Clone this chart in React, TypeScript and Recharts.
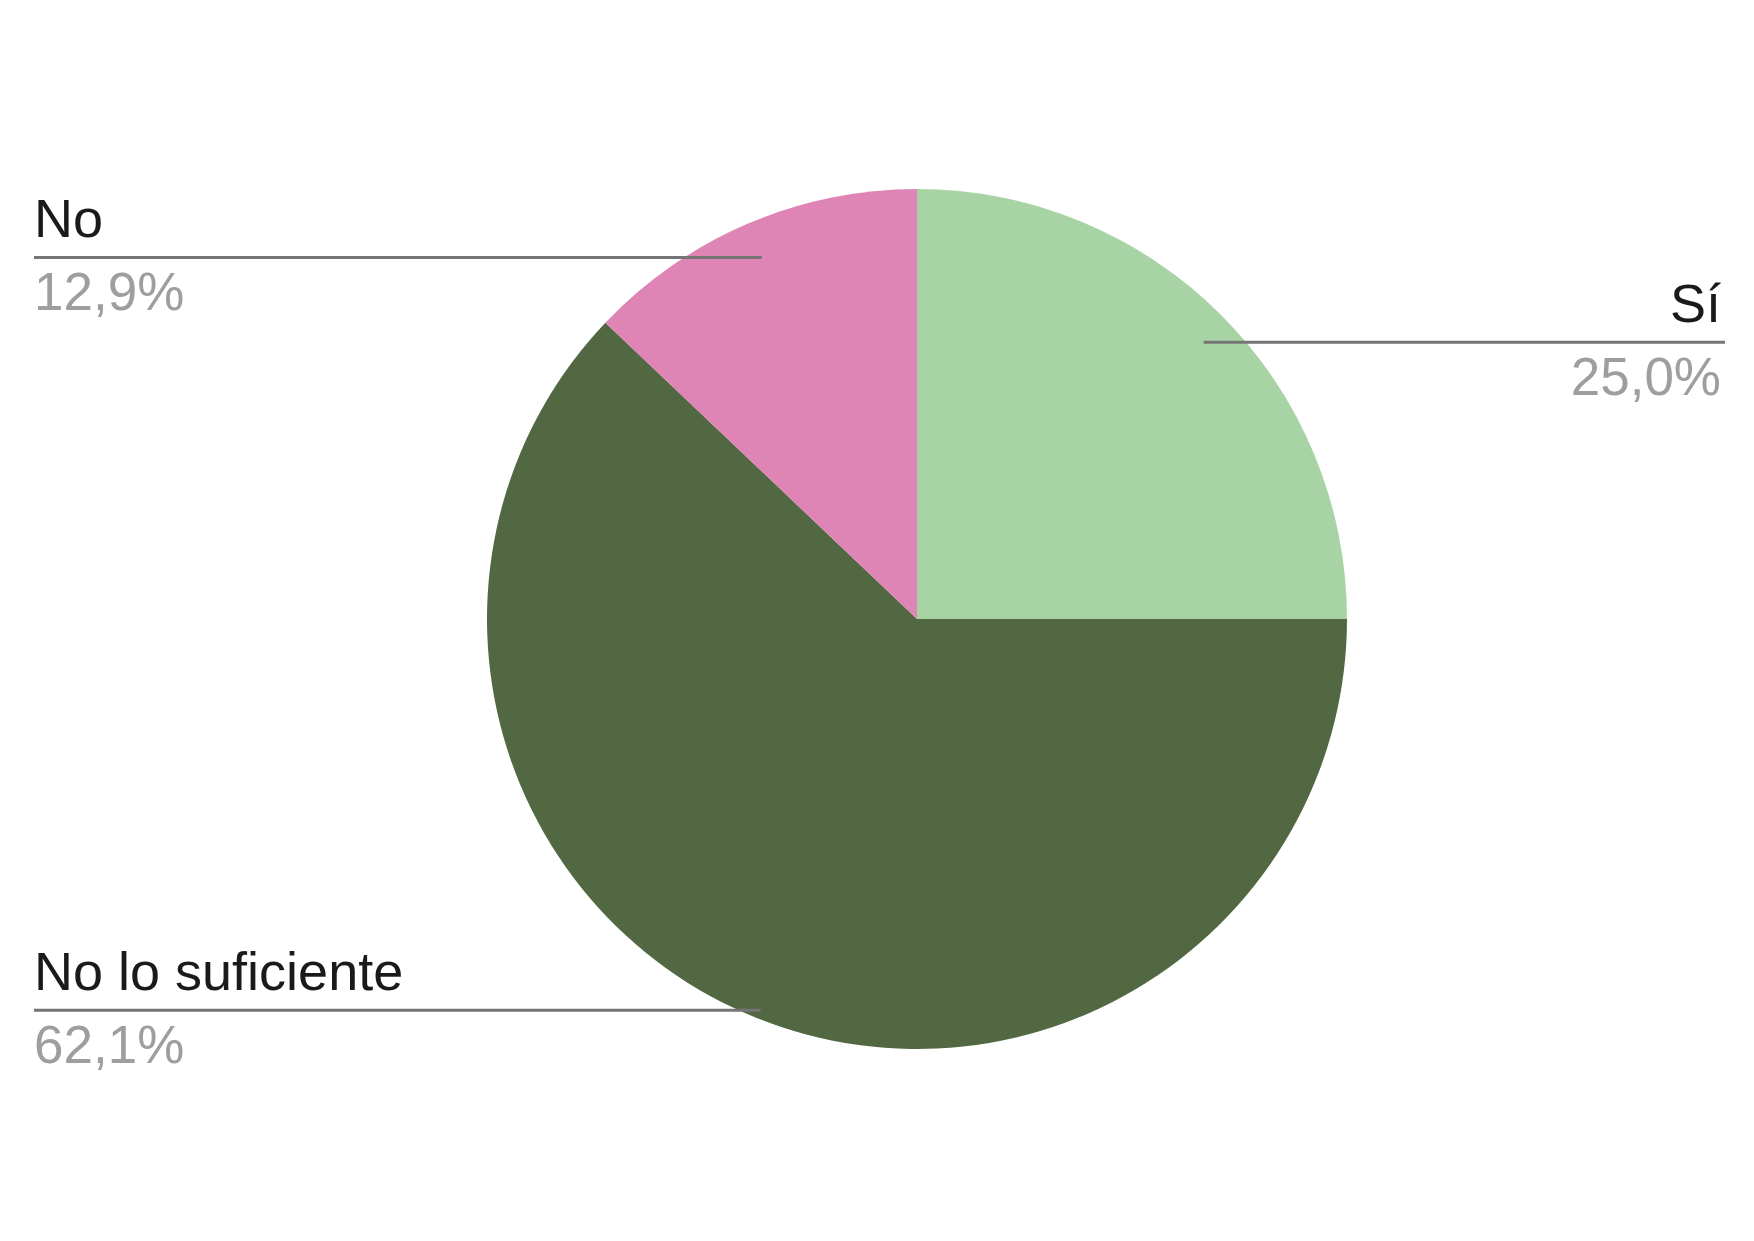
import { PieChart, Pie, Cell } from 'recharts'

const labels = ['Sí', 'No lo suficiente', 'No']
const shares = [25.0, 62.1, 12.9]
const colors = ['#a8d4a5', '#526842', '#de85b6']
// where each leader line meets its slice, as a fraction of the radius
const lineDepth = [0.91, 0.98, 0.915]

const data = labels.map((name, i) => ({ name, value: shares[i] }))

const W = 1754
const H = 1241
const RADIAN = Math.PI / 180
const FONT = "'Liberation Sans', Arial, sans-serif"

function renderLabel(props: any) {
  const { cx, cy, midAngle, outerRadius, percent, name, index } = props
  const r = outerRadius * lineDepth[index]
  const px = cx + r * Math.cos(-midAngle * RADIAN)
  const py = cy + r * Math.sin(-midAngle * RADIAN)
  const right = Math.cos(-midAngle * RADIAN) >= 0
  const x1 = right ? px + 10 : 34
  const x2 = right ? 1725 : px
  const tx = right ? 1721 : 34
  const anchor = right ? 'end' : 'start'
  const pct = (percent * 100).toFixed(1).replace('.', ',') + '%'
  return (
    <g key={`lbl-${index}`}>
      <line x1={x1} y1={py} x2={x2} y2={py} stroke="#757575" strokeWidth={3} />
      <text x={tx} y={py - 20} textAnchor={anchor} fill="#1a1a1a" fontSize={54} fontFamily={FONT}>
        {name}
      </text>
      <text x={tx} y={py + 53} textAnchor={anchor} fill="#9e9e9e" fontSize={53} fontFamily={FONT}>
        {pct}
      </text>
    </g>
  )
}

export default function App() {
  return (
    <div style={{ position: 'absolute', left: 0, top: 0, width: W, height: H, background: '#fff' }}>
      <PieChart width={W} height={H} margin={{ top: 0, right: 0, bottom: 0, left: 0 }}>
        <Pie
          data={data}
          dataKey="value"
          nameKey="name"
          cx={917}
          cy={619}
          outerRadius={430}
          startAngle={90}
          endAngle={-270}
          stroke="none"
          label={renderLabel}
          labelLine={false}
          isAnimationActive={false}
        >
          {data.map((d, i) => (
            <Cell key={d.name} fill={colors[i]} />
          ))}
        </Pie>
      </PieChart>
    </div>
  )
}
